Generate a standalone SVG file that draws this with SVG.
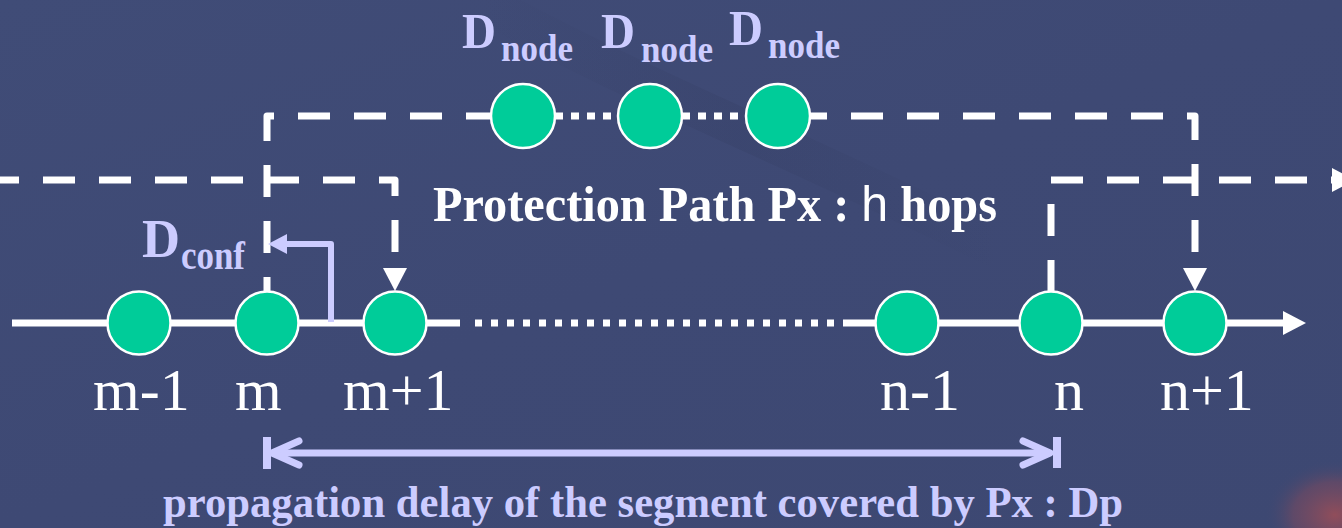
<svg xmlns="http://www.w3.org/2000/svg" width="1342" height="528" viewBox="0 0 1342 528">
<style>
.wl{fill:none;stroke:#ffffff;stroke-width:7}
.dash{fill:none;stroke:#ffffff;stroke-width:7;stroke-dasharray:32 24;stroke-linejoin:round}
.dot{fill:none;stroke:#ffffff;stroke-width:7;stroke-dasharray:8 8}
.lav{fill:none;stroke:#ccccff;stroke-width:7;stroke-linejoin:round;stroke-linecap:round}
.node{fill:#00cc99;stroke:#ffffff;stroke-width:2.5}
.lbl{font-family:"Liberation Serif","Times New Roman",serif;font-size:60px;fill:#ffffff}
.bl{font-family:"Liberation Serif","Times New Roman",serif;font-weight:bold;fill:#ccccff}
.wt{font-family:"Liberation Serif","Times New Roman",serif;font-weight:bold;fill:#ffffff}
</style>
<defs>
<linearGradient id="bg" x1="0" y1="0" x2="1" y2="1">
<stop offset="0" stop-color="#404c77"/>
<stop offset="0.5" stop-color="#3e4974"/>
<stop offset="1" stop-color="#3d4872"/>
</linearGradient>
<radialGradient id="blob" cx="0.5" cy="0.5" r="0.5">
<stop offset="0" stop-color="#9a4e58" stop-opacity="0.9"/>
<stop offset="0.6" stop-color="#7a4a60" stop-opacity="0.55"/>
<stop offset="1" stop-color="#3d4872" stop-opacity="0"/>
</radialGradient>
<linearGradient id="streak" x1="0" y1="0" x2="1" y2="0">
<stop offset="0" stop-color="#2e3658" stop-opacity="0"/>
<stop offset="0.5" stop-color="#2e3658" stop-opacity="0.3"/>
<stop offset="1" stop-color="#2e3658" stop-opacity="0"/>
</linearGradient>
<marker id="tri" markerUnits="userSpaceOnUse" markerWidth="24" markerHeight="24" refX="0" refY="12" orient="auto">
<path d="M0,0 L23,12 L0,24 z" fill="#ffffff"/>
</marker>
<marker id="ltri" markerUnits="userSpaceOnUse" markerWidth="20" markerHeight="20" refX="0" refY="10" orient="auto">
<path d="M0,0 L19,10 L0,20 z" fill="#ccccff"/>
</marker>
</defs>
<rect x="0" y="0" width="1342" height="528" fill="url(#bg)"/>
<path d="M480,0 C620,80 800,150 1000,250" fill="none" stroke="url(#streak)" stroke-width="40" opacity="0.6"/>
<ellipse cx="1335" cy="515" rx="70" ry="55" fill="url(#blob)"/>

<g id="connectors">
<path class="wl" d="M12,323 H460"/>
<path class="dot" d="M475,323 H835" style="stroke-dasharray:7 9"/>
<path class="wl" d="M843,323 H1283" marker-end="url(#tri)"/>
<path class="dash" d="M-13,180 H395 V268" marker-end="url(#tri)"/>
<path class="dash" d="M1051,292 V180 H1332" marker-end="url(#tri)"/>
<path class="dash" d="M267,309 V116 H523"/>
<path class="dot" d="M555,116 H618"/>
<path class="dot" d="M682,116 H747"/>
<path class="dash" d="M795,116 H1195 V268" marker-end="url(#tri)"/>
<path class="lav" d="M331,322 V244 H287" style="stroke-width:6;stroke-linecap:butt" marker-end="url(#ltri)"/>
<path class="lav" d="M272,453 H1050" style="stroke-linecap:butt"/>
<polyline class="lav" points="299,441 272,453 299,465"/>
<polyline class="lav" points="1023,441 1050,453 1023,465"/>
<path class="lav" d="M267,437 V469" style="stroke-width:8;stroke-linecap:butt"/>
<path class="lav" d="M1057,437 V468" style="stroke-width:8;stroke-linecap:butt"/>
</g>

<g id="node-m-1"><circle class="node" cx="139" cy="323" r="31.5"/><text class="lbl" x="93" y="410">m-1</text></g>
<g id="node-m"><circle class="node" cx="267" cy="323" r="31.5"/><text class="lbl" x="235" y="410">m</text></g>
<g id="node-m1"><circle class="node" cx="395" cy="323" r="31.5"/><text class="lbl" x="343" y="410">m+1</text></g>
<g id="node-n-1"><circle class="node" cx="907" cy="323" r="31.5"/><text class="lbl" x="880" y="410">n-1</text></g>
<g id="node-n"><circle class="node" cx="1051" cy="323" r="31.5"/><text class="lbl" x="1054" y="410">n</text></g>
<g id="node-n1"><circle class="node" cx="1195" cy="323" r="31.5"/><text class="lbl" x="1160" y="410">n+1</text></g>

<g id="pnode-1"><circle class="node" cx="523" cy="116" r="32"/><text class="bl" x="462" y="48" font-size="50" textLength="34" lengthAdjust="spacingAndGlyphs">D</text><text class="bl" x="501" y="61" font-size="38" textLength="72" lengthAdjust="spacingAndGlyphs">node</text></g>
<g id="pnode-2"><circle class="node" cx="650" cy="116" r="32"/><text class="bl" x="601" y="48" font-size="50" textLength="34" lengthAdjust="spacingAndGlyphs">D</text><text class="bl" x="641" y="62" font-size="38" textLength="72" lengthAdjust="spacingAndGlyphs">node</text></g>
<g id="pnode-3"><circle class="node" cx="778" cy="116" r="32"/><text class="bl" x="729" y="45" font-size="50" textLength="34" lengthAdjust="spacingAndGlyphs">D</text><text class="bl" x="768" y="58" font-size="38" textLength="72" lengthAdjust="spacingAndGlyphs">node</text></g>

<g id="label-dconf"><text class="bl" x="142" y="257" font-size="54" textLength="38" lengthAdjust="spacingAndGlyphs">D</text><text class="bl" x="181" y="269" font-size="40" textLength="64" lengthAdjust="spacingAndGlyphs">conf</text></g>
<g id="label-protection"><text class="wt" x="433" y="221" font-size="50" textLength="564" lengthAdjust="spacingAndGlyphs">Protection Path Px : <tspan font-family="'Liberation Sans',Arial,sans-serif" font-weight="normal">h</tspan> hops</text></g>
<g id="label-dp"><text class="bl" x="163" y="517" font-size="44" textLength="960" lengthAdjust="spacingAndGlyphs">propagation delay of the segment covered by Px : Dp</text></g>
</svg>
